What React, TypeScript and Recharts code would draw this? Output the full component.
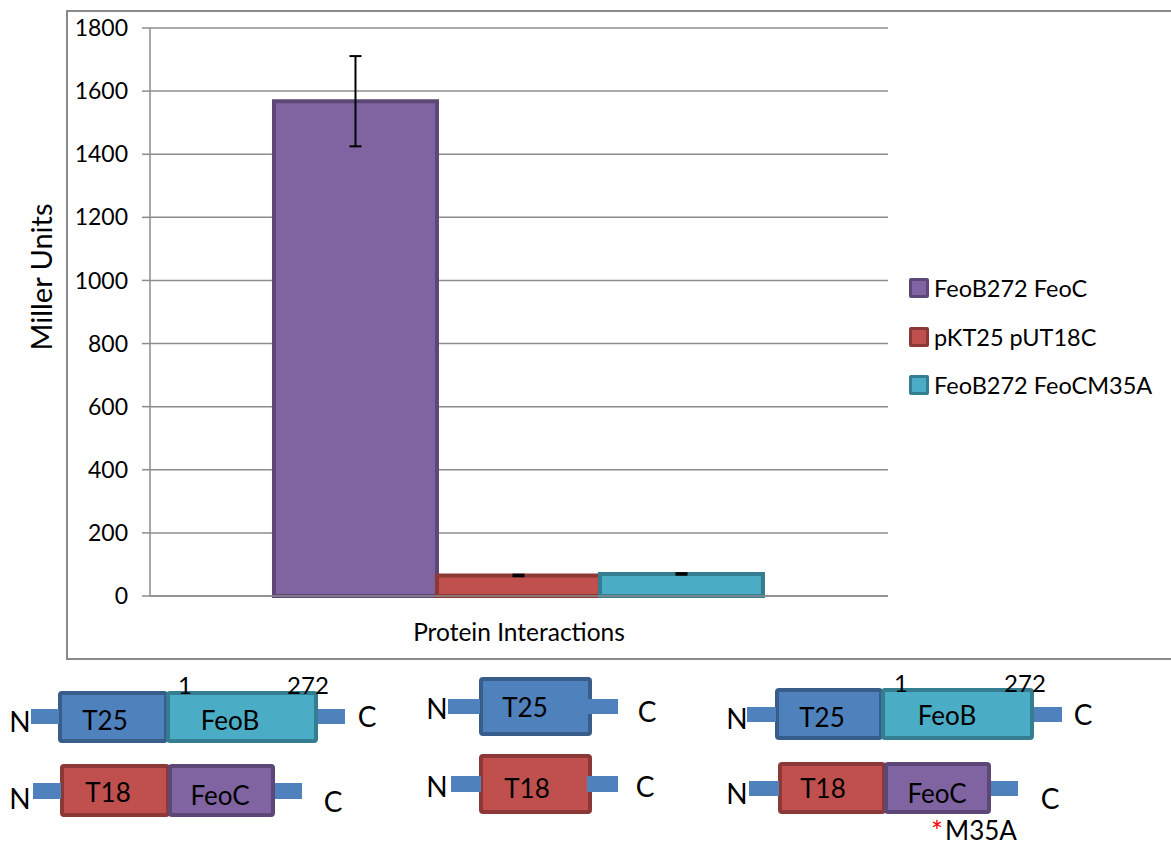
import React from 'react';
import { BarChart, Bar, XAxis, YAxis, CartesianGrid, ErrorBar, Label } from 'recharts';

const categories = ['Protein Interactions'];
const seriesNames = ['FeoB272 FeoC', 'pKT25 pUT18C', 'FeoB272 FeoCM35A'];
const seriesValues = [1568, 65, 70];
const seriesErrors = [143, 2.5, 2.5];
const seriesFills = ['#8064a2', '#c0504d', '#4bacc6'];
const seriesStrokes = ['#5c4776', '#8c3836', '#357d91'];
const yTicks = [0, 200, 400, 600, 800, 1000, 1200, 1400, 1600, 1800];

const FONT = 'Lato, "Open Sans", sans-serif';

const data = categories.map((name) => {
  const row: Record<string, any> = { name };
  seriesNames.forEach((_, i) => {
    row['s' + i] = seriesValues[i];
    row['e' + i] = seriesErrors[i];
  });
  return row;
});

const BLUE = '#4f81bd', BLUE_S = '#385d8a';
const TEAL = '#4bacc6', TEAL_S = '#357d91';
const RED = '#c0504d', RED_S = '#8c3836';
const PURP = '#8064a2', PURP_S = '#5c4776';

function Box({ x1, x2, y1, y2, fill, stroke }: any) {
  return <rect x={x1 + 2} y={y1 + 2} width={x2 - x1 - 4} height={y2 - y1 - 4} rx={2} fill={fill} stroke={stroke} strokeWidth={4} />;
}
function Conn({ x1, x2, y1, y2 }: any) {
  return <rect x={x1} y={y1} width={x2 - x1} height={y2 - y1} fill={BLUE} />;
}
function T({ x, y, size = 26, children, anchor = 'middle', fill = '#000' }: any) {
  return (
    <text x={x} y={y} fontSize={size} fontFamily={FONT} textAnchor={anchor} dominantBaseline="central" fill={fill}>
      {children}
    </text>
  );
}

function Diagrams() {
  return (
    <svg width={1171} height={848} style={{ position: 'absolute', left: 0, top: 0, pointerEvents: 'none' }}>
      {/* group 1 */}
      <Box x1={58} x2={168} y1={691} y2={743} fill={BLUE} stroke={BLUE_S} />
      <Box x1={166} x2={318} y1={691} y2={743} fill={TEAL} stroke={TEAL_S} />
      <Conn x1={31} x2={59} y1={709} y2={724} />
      <Conn x1={318} x2={345} y1={709} y2={724} />
      <T x={20} y={721} size={28}>N</T>
      <T x={367} y={716} size={28}>C</T>
      <T x={185} y={684} size={24}>1</T>
      <T x={308} y={684} size={24}>272</T>
      <T x={105} y={720}>T25</T>
      <T x={230} y={720}>FeoB</T>

      <Box x1={60} x2={170} y1={764} y2={817} fill={RED} stroke={RED_S} />
      <Box x1={168} x2={275} y1={764} y2={817} fill={PURP} stroke={PURP_S} />
      <Conn x1={33} x2={61} y1={783} y2={799} />
      <Conn x1={275} x2={302} y1={783} y2={799} />
      <T x={20} y={798} size={28}>N</T>
      <T x={333} y={801} size={28}>C</T>
      <T x={108} y={792}>T18</T>
      <T x={220} y={795}>FeoC</T>

      {/* group 2 */}
      <Box x1={479} x2={592} y1={677} y2={736} fill={BLUE} stroke={BLUE_S} />
      <Conn x1={448} x2={480} y1={699} y2={714} />
      <Conn x1={587} x2={618} y1={699} y2={714} />
      <T x={437} y={708} size={28}>N</T>
      <T x={647} y={711} size={28}>C</T>
      <T x={525} y={707}>T25</T>

      <Box x1={479} x2={592} y1={754} y2={814} fill={RED} stroke={RED_S} />
      <Conn x1={451} x2={481} y1={776} y2={792} />
      <Conn x1={587} x2={618} y1={776} y2={792} />
      <T x={437} y={786} size={28}>N</T>
      <T x={645} y={786} size={28}>C</T>
      <T x={527} y={788}>T18</T>

      {/* group 3 */}
      <Box x1={775} x2={883} y1={688} y2={740} fill={BLUE} stroke={BLUE_S} />
      <Box x1={881} x2={1034} y1={688} y2={740} fill={TEAL} stroke={TEAL_S} />
      <Conn x1={747} x2={776} y1={707} y2={722} />
      <Conn x1={1034} x2={1062} y1={707} y2={722} />
      <T x={737} y={718} size={28}>N</T>
      <T x={1083} y={714} size={28}>C</T>
      <T x={901} y={682} size={24}>1</T>
      <T x={1025} y={682} size={24}>272</T>
      <T x={822} y={717}>T25</T>
      <T x={947} y={715}>FeoB</T>

      <Box x1={778} x2={886} y1={762} y2={814} fill={RED} stroke={RED_S} />
      <Box x1={884} x2={991} y1={762} y2={814} fill={PURP} stroke={PURP_S} />
      <Conn x1={749} x2={779} y1={781} y2={796} />
      <Conn x1={991} x2={1018} y1={781} y2={796} />
      <T x={737} y={793} size={28}>N</T>
      <T x={1050} y={798} size={28}>C</T>
      <T x={823} y={788}>T18</T>
      <T x={937} y={793}>FeoC</T>
      <T x={937} y={831} size={28} fill="#ff0000">*</T>
      <T x={945} y={830} size={26} anchor="start">M35A</T>
    </svg>
  );
}

function Legend() {
  return (
    <div style={{ position: 'absolute', left: 909, top: 276, fontFamily: FONT, fontSize: 23.5 }}>
      {seriesNames.map((n, i) => (
        <div key={n} style={{ display: 'flex', alignItems: 'center', height: 24, marginBottom: 24.5 }}>
          <div style={{ width: 14, height: 14, background: seriesFills[i], border: `3px solid ${seriesStrokes[i]}`, borderRadius: 2, marginRight: 5 }} />
          <span style={{ color: '#000', lineHeight: '24px', whiteSpace: 'nowrap' }}>{n}</span>
        </div>
      ))}
    </div>
  );
}

export default function App() {
  return (
    <div style={{ position: 'absolute', left: 0, top: 0, width: 1171, height: 848, background: '#fff', overflow: 'hidden' }}>
      <div style={{ position: 'absolute', left: 66, top: 10, width: 1120, height: 650, border: '2px solid #8a8a8a', boxSizing: 'border-box' }} />
      <div style={{ position: 'absolute', left: 0, top: 0 }}>
        <BarChart
          width={1171}
          height={670}
          data={data}
          margin={{ top: 28, right: 283, bottom: 0, left: 0 }}
          barCategoryGap="16.8%"
          barGap={0}
        >
          <CartesianGrid horizontal vertical={false} stroke="#8c8c8c" strokeWidth={1.5} />
          <XAxis
            dataKey="name"
            tickLine={false}
            axisLine={{ stroke: '#8c8c8c', strokeWidth: 1.5 }}
            tick={{ fontSize: 24.5, fill: '#000', fontFamily: FONT }}
            tickMargin={22}
            height={74}
          />
          <YAxis
            width={150}
            domain={[0, 1800]}
            ticks={yTicks}
            interval={0}
            tickSize={8}
            tickMargin={14}
            tickLine={{ stroke: '#8c8c8c', strokeWidth: 1.5 }}
            axisLine={{ stroke: '#8c8c8c', strokeWidth: 1.5 }}
            tick={{ fontSize: 23, fill: '#000', fontFamily: FONT }}
          >
            <Label
              content={({ viewBox }: any) => {
                const cx = viewBox.x + 40;
                const cy = viewBox.y + viewBox.height / 2 - 35;
                return (
                  <text x={cx} y={cy} transform={`rotate(-90, ${cx}, ${cy})`} textAnchor="middle" dominantBaseline="central" fontSize={29} fontFamily={FONT} fill="#000">
                    Miller Units
                  </text>
                );
              }}
            />
          </YAxis>
          {seriesNames.map((n, i) => (
            <Bar key={n} dataKey={'s' + i} name={n} fill={seriesFills[i]} stroke={seriesStrokes[i]} strokeWidth={4} isAnimationActive={false}>
              <ErrorBar dataKey={'e' + i} width={6} stroke="#000" strokeWidth={2} isAnimationActive={false} />
            </Bar>
          ))}
        </BarChart>
      </div>
      <Legend />
      <Diagrams />
    </div>
  );
}
